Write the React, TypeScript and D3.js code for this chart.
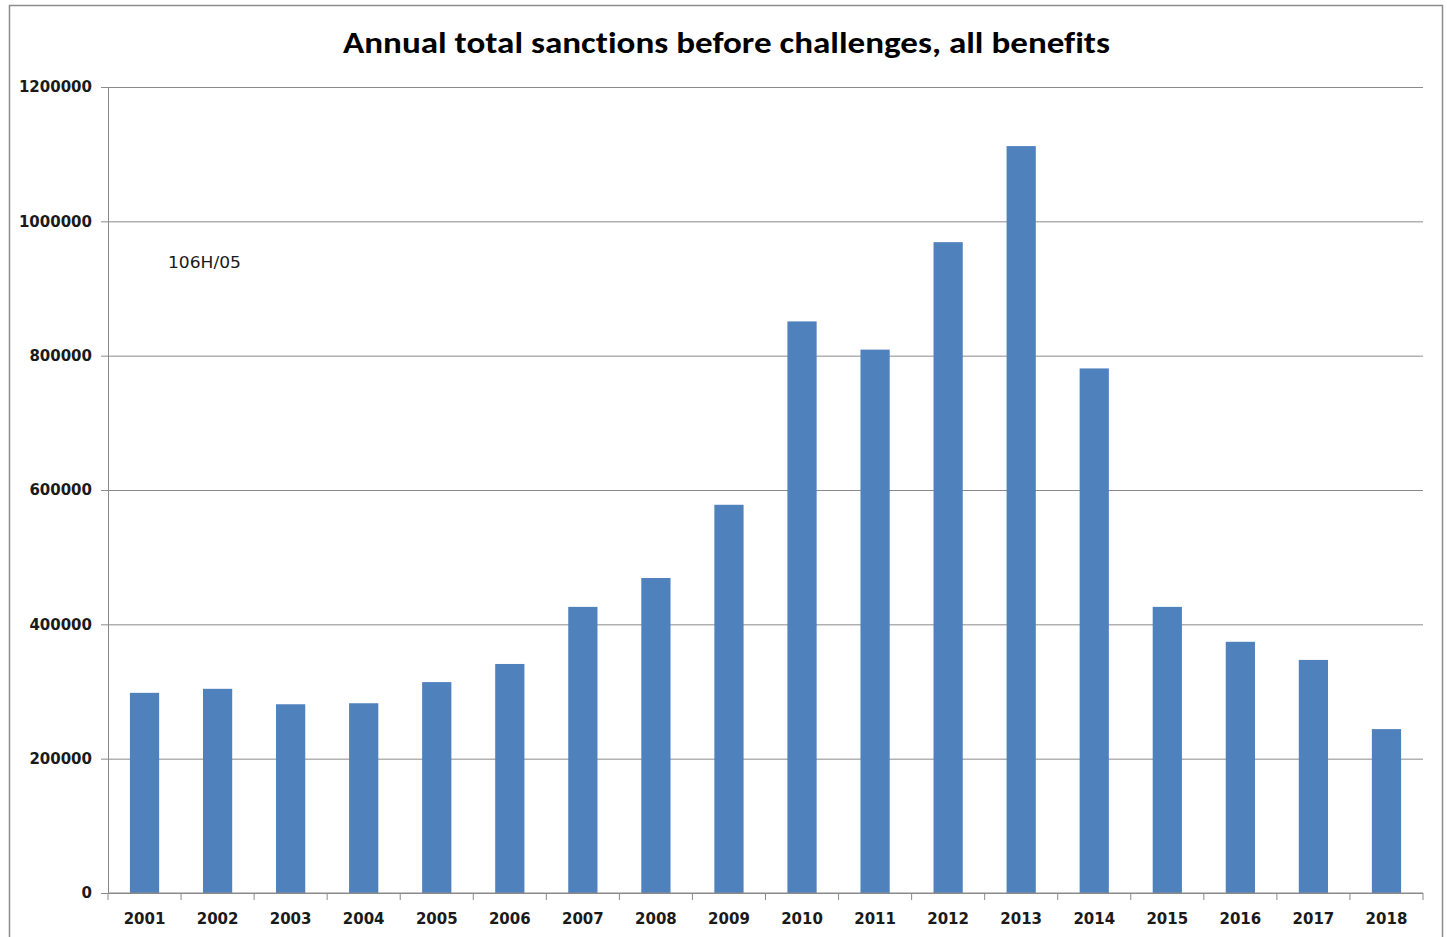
import React, { useEffect, useRef } from 'react';
import * as d3 from 'd3';

const years = [
  '2001', '2002', '2003', '2004', '2005', '2006', '2007', '2008', '2009',
  '2010', '2011', '2012', '2013', '2014', '2015', '2016', '2017', '2018',
];

const sanctions = [
  298000, 304000, 281000, 282500, 314000, 341000, 426000, 469000, 578000,
  851000, 809000, 969000, 1112000, 781000, 426000, 374000, 347000, 244000,
];

const yTicks = [0, 200000, 400000, 600000, 800000, 1000000, 1200000];

const title = 'Annual total sanctions before challenges, all benefits';
const note = '106H/05';

const W = 1447;
const H = 937;
const TITLE_FONT = "Carlito, Calibri, 'Open Sans', 'Noto Sans', sans-serif";
const TICK_FONT = "'DejaVu Sans', Verdana, sans-serif";

const App: React.FC = () => {
  const svgRef = useRef<SVGSVGElement>(null);

  useEffect(() => {
    if (!svgRef.current) return;
    const svg = d3.select(svgRef.current);
    svg.selectAll('*').remove();

    const margin = { top: 87, right: 24, bottom: 44, left: 108 };
    const width = W - margin.left - margin.right;
    const height = H - margin.top - margin.bottom;

    // Outer chart border
    svg.append('rect')
      .attr('x', 9.5)
      .attr('y', 5.5)
      .attr('width', 1433)
      .attr('height', 940)
      .attr('fill', 'white')
      .attr('stroke', '#8c8c8c')
      .attr('stroke-width', 1.5);

    svg.append('text')
      .attr('x', 343)
      .attr('y', 53)
      .attr('textLength', 767)
      .attr('lengthAdjust', 'spacingAndGlyphs')
      .style('font-family', TITLE_FONT)
      .style('font-weight', 700)
      .style('font-size', '30px')
      .style('font-variant-ligatures', 'none')
      .style('fill', '#000')
      .text(title);

    const g = svg.append('g')
      .attr('transform', `translate(${margin.left},${margin.top})`);

    const x = d3.scaleBand()
      .domain(years)
      .range([0, width])
      .paddingInner(0.6)
      .paddingOuter(0.3);

    const xCat = d3.scaleBand().domain(years).range([0, width]);

    const y = d3.scaleLinear()
      .domain([0, 1200000])
      .range([height, 0]);

    // Grid lines
    g.append('g')
      .attr('class', 'grid')
      .call(d3.axisLeft(y).tickValues(yTicks).tickSize(-width).tickFormat(() => ''))
      .call(s => s.select('.domain').remove())
      .selectAll('line')
      .style('stroke', '#8a8a8a')
      .style('stroke-width', 1);

    // Bars
    g.selectAll('.bar')
      .data(years)
      .enter()
      .append('rect')
      .attr('class', 'bar')
      .attr('x', d => x(d) || 0)
      .attr('width', x.bandwidth())
      .attr('y', (d, i) => y(sanctions[i]))
      .attr('height', (d, i) => height - y(sanctions[i]))
      .attr('fill', '#4f81bd');

    // Y axis
    const yAxis = g.append('g')
      .attr('class', 'y-axis')
      .call(d3.axisLeft(y).tickValues(yTicks).tickSize(7).tickPadding(9).tickFormat(d3.format('d')));
    yAxis.selectAll('path, line').style('stroke', '#8a8a8a');
    yAxis.selectAll('text')
      .style('font-family', TICK_FONT)
      .style('font-size', '15px')
      .style('font-weight', 700)
      .style('fill', '#1a1a1a');

    // X axis with ticks at category boundaries
    const xAxis = g.append('g')
      .attr('class', 'x-axis')
      .attr('transform', `translate(0,${height})`);
    xAxis.append('line')
      .attr('x1', 0).attr('x2', width)
      .style('stroke', '#8a8a8a');
    xAxis.selectAll('.tick-mark')
      .data([...years, 'end'])
      .enter()
      .append('line')
      .attr('x1', (d, i) => i * xCat.step())
      .attr('x2', (d, i) => i * xCat.step())
      .attr('y1', 0)
      .attr('y2', 7)
      .style('stroke', '#8a8a8a');
    xAxis.selectAll('.lbl')
      .data(years)
      .enter()
      .append('text')
      .attr('x', d => (xCat(d) || 0) + xCat.bandwidth() / 2)
      .attr('y', 31)
      .attr('text-anchor', 'middle')
      .style('font-family', TICK_FONT)
      .style('font-size', '15px')
      .style('font-weight', 700)
      .style('fill', '#1a1a1a')
      .text(d => d);

    // Note
    svg.append('text')
      .attr('x', 168)
      .attr('y', 268)
      .attr('textLength', 73)
      .attr('lengthAdjust', 'spacingAndGlyphs')
      .style('font-family', TICK_FONT)
      .style('font-size', '15px')
      .style('fill', '#1a1a1a')
      .text(note);
  }, []);

  return (
    <svg
      ref={svgRef}
      width={W}
      height={H}
      style={{ position: 'absolute', top: 0, left: 0, background: 'white' }}
    />
  );
};

export default App;
